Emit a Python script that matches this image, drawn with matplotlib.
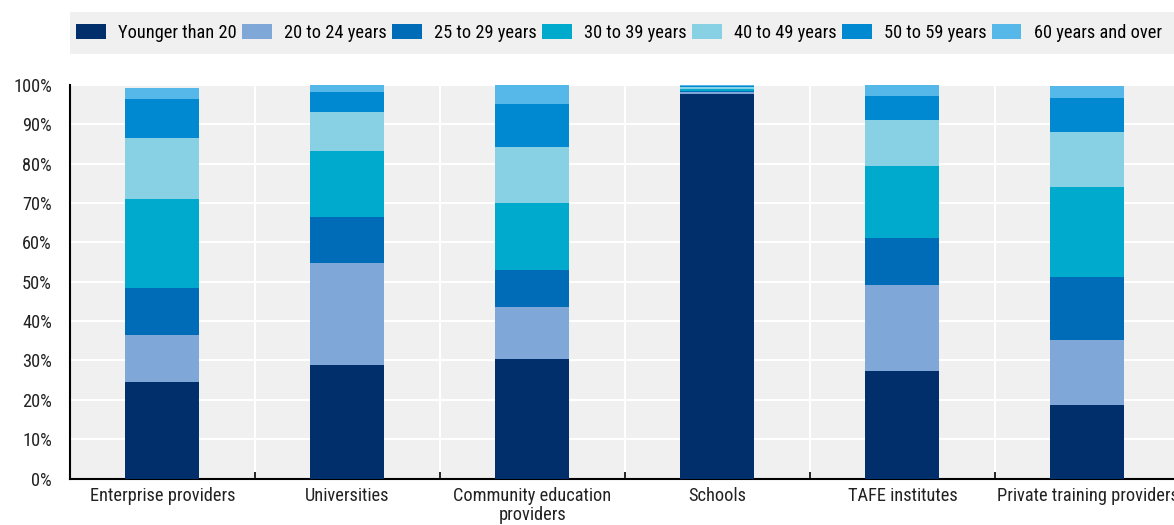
import os
import numpy as np
import matplotlib.pyplot as plt
from matplotlib.patches import Rectangle
from matplotlib import font_manager
from matplotlib.font_manager import FontProperties
from matplotlib.textpath import TextPath

categorias = ["Enterprise providers", "Universities", "Community education\nproviders",
              "Schools", "TAFE institutes", "Private training providers"]
faixas = ["Younger than 20", "20 to 24 years", "25 to 29 years", "30 to 39 years",
          "40 to 49 years", "50 to 59 years", "60 years and over"]

# valores (%), por faixa etaria
menor_20 = [24.6, 28.9, 30.4, 97.7, 27.4, 18.6]
de_20_24 = [11.8, 25.9, 13.2, 0.5, 21.7, 16.6]
de_25_29 = [12.1, 11.7, 9.4, 0.4, 12.1, 16.1]
de_30_39 = [22.5, 16.8, 17.0, 0.5, 18.2, 22.8]
de_40_49 = [15.6, 9.8, 14.2, 0.3, 11.7, 13.9]
de_50_59 = [9.8, 5.1, 10.9, 0.3, 6.2, 8.8]
acima_60 = [2.9, 1.8, 4.9, 0.3, 2.7, 3.0]

series = [menor_20, de_20_24, de_25_29, de_30_39, de_40_49, de_50_59, acima_60]
cores = ["#002F6C", "#7FA8D9", "#006BB6", "#00AACC", "#88D1E4", "#0089D0", "#56B8E8"]


# escolhe uma fonte sans parecida com Arial Narrow (largura / altura de maiuscula)
def escolhe_fonte():
    prefixos = ("LiberationSans", "NotoSans-", "Roboto", "OpenSans", "Lato", "Inter", "DejaVuSans")
    alvo = 120 / 14.3
    melhor, melhor_dif = None, 1e9
    vistos = set()
    for f in font_manager.fontManager.ttflist:
        base = os.path.basename(f.fname)
        if not base.startswith(prefixos) or base in vistos:
            continue
        vistos.add(base)
        if f.style != 'normal' or f.weight not in (400, 'normal', 'regular'):
            continue
        if any(k in base for k in ("Mono", "Bold", "Italic", "Light", "Medium", "Black", "Thin")):
            continue
        try:
            fp = FontProperties(fname=f.fname)
            cap = TextPath((0, 0), "H", size=100, prop=fp).get_extents().height
            larg = TextPath((0, 0), "Younger than 20", size=100, prop=fp).get_extents().width
        except Exception:
            continue
        dif = abs(larg / cap - alvo)
        if dif < melhor_dif:
            melhor, melhor_dif = (fp, larg), dif
    return melhor


fp, larg100 = escolhe_fonte()
FS = 100 * (117.5 * 0.72) / larg100  # "Younger than 20" com ~118 px
fpx = FS / 0.72

W, H = 1174, 525
fig = plt.figure(figsize=(W / 100, H / 100), dpi=100)
ax = fig.add_axes([70 / W, 46.5 / H, 1110 / W, 393.5 / H])
ax.set_facecolor("#F0F0F0")

x = np.arange(len(categorias))
base = np.zeros(len(categorias))
for vals, cor, nome in zip(series, cores, faixas):
    vals = np.array(vals)
    ax.bar(x, vals, 0.4, bottom=base, color=cor, label=nome, zorder=3)
    base += vals

ax.set_xlim(-0.5, len(categorias) - 0.5)
ax.set_ylim(0, 100)
ax.set_yticks(np.arange(0, 101, 10))
ax.set_yticklabels([f"{v}%" for v in range(0, 101, 10)], fontproperties=fp, size=FS)
ax.set_xticks(x)
ax.set_xticklabels(categorias, fontproperties=fp, size=FS, linespacing=1.1)
ax.set_xticks(x[:-1] + 0.5, minor=True)

ax.tick_params(axis='y', length=0, pad=13, colors="#222222")
ax.tick_params(axis='x', which='major', length=0, pad=6, colors="#222222")
ax.tick_params(axis='x', which='minor', direction='in', length=5, width=1.2, color='black')

ax.grid(axis='y', color='white', lw=1.5, zorder=1)
ax.grid(axis='x', which='minor', color='white', lw=1.5, zorder=1)
ax.set_axisbelow(True)
for lado in ['top', 'right']:
    ax.spines[lado].set_visible(False)
for lado in ['left', 'bottom']:
    ax.spines[lado].set_linewidth(1.5)
    ax.spines[lado].set_color('black')

# fundo da legenda
fig.patches.append(Rectangle((70 / W, 1 - 54 / H), 1.0, 41.7 / H, transform=fig.transFigure,
                             facecolor="#F0F0F0", edgecolor='none', zorder=0))
leg_fp = fp.copy()
leg_fp.set_size(FS)
fig.legend(loc='center left', bbox_to_anchor=(76 / W, 1 - 33 / H), ncol=7, frameon=False,
           prop=leg_fp, handlelength=29.7 / fpx, handleheight=15.7 / fpx,
           handletextpad=12.6 / fpx, columnspacing=5 / fpx, borderpad=0, borderaxespad=0)

fig.savefig("out.png", dpi=100)
